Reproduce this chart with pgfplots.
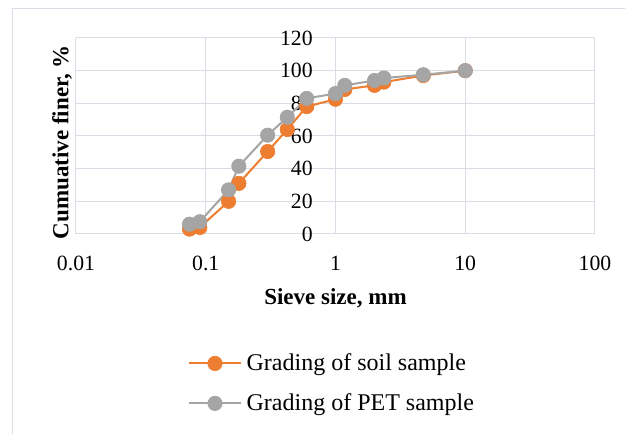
\documentclass[border=0pt]{standalone}
\usepackage{fontspec}
\setmainfont{Liberation Serif}
\usepackage{pgfplots}
\pgfplotsset{compat=1.18}
\definecolor{gridc}{RGB}{217,222,230}
\definecolor{soilc}{RGB}{237,125,49}
\definecolor{petc}{RGB}{165,165,165}
\begin{document}
\begin{tikzpicture}
\path[use as bounding box] (0,0) rectangle (468.75pt,325.5pt);
\draw[gridc, line width=0.75pt] (9pt,0pt) -- (9pt,318.75pt) -- (468.75pt,318.75pt);
\begin{axis}[
  at={(57pt,150pt)}, anchor=south west,
  scale only axis, width=389.25pt, height=147pt,
  xmode=log, xmin=0.01, xmax=100, ymin=0, ymax=120,
  xtick={0.01,0.1,1,10,100}, xticklabels={0.01,0.1,1,10,100},
  ytick={0,20,40,60,80,100,120},
  grid=major, major grid style={gridc, line width=0.75pt},
  axis line style={draw=none},
  major tick length=0pt, minor tick length=0pt,
  tick label style={font=\fontsize{16.3}{19}\selectfont},
  /pgf/number format/assume math mode=true,
  xticklabel style={anchor=center, yshift=-21.75pt},
  yticklabel style={anchor=east, inner sep=0pt, xshift=177.75pt},
  xlabel={Sieve size, mm}, ylabel={Cumuative finer, \%},
  label style={font=\bfseries\fontsize{17.25}{20}\selectfont},
  xlabel style={at={(axis description cs:0.5,-0.3265)}, anchor=center},
  ylabel style={at={(axis description cs:-0.027,0.469)}, anchor=center},
  legend style={at={(axis description cs:0.2158,-0.6056)}, anchor=north west,
    draw=none, fill=none, inner sep=0pt, outer sep=0pt,
    nodes={inner sep=1pt, anchor=west},
    row sep=13.75pt, font=\fontsize{18}{21}\selectfont,
    /tikz/every odd column/.append style={column sep=2.5pt}},
  legend cell align=left,
  legend image code/.code={\draw[mark repeat=2, mark phase=2, #1] plot coordinates {(0pt,0pt) (19.5pt,0pt) (39pt,0pt)};},
]
\addplot[soilc, line width=1.5pt, mark=*, mark size=5.4pt, mark options={fill=soilc, draw=soilc, line width=0.5pt}]
coordinates {(0.075,3) (0.09,4) (0.15,20) (0.18,31) (0.3,50.5) (0.425,64) (0.6,78) (1.0,82.5) (1.18,88.5) (2.0,91) (2.36,93) (4.75,97) (10,100)};
\addlegendentry{Grading of soil sample}
\addplot[petc, line width=1.5pt, mark=*, mark size=5.4pt, mark options={fill=petc, draw=petc, line width=0.5pt}]
coordinates {(0.075,6) (0.09,7.5) (0.15,27) (0.18,41.5) (0.3,60.5) (0.425,71.5) (0.6,83) (1.0,86) (1.18,91) (2.0,94) (2.36,95.5) (4.75,97.5) (10,100)};
\addlegendentry{Grading of PET sample}
\end{axis}
\end{tikzpicture}
\end{document}
